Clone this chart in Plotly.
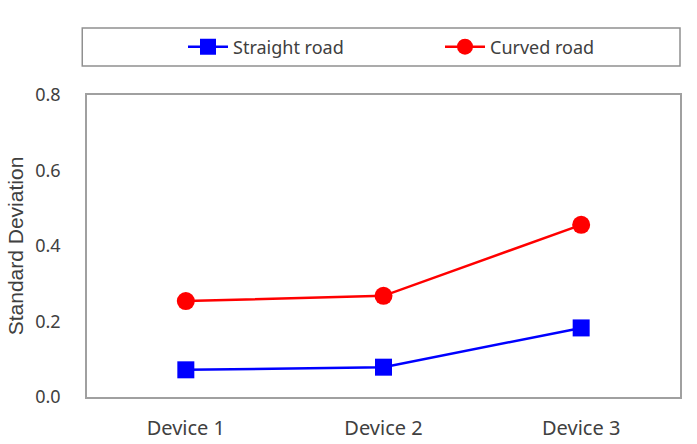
import plotly.graph_objects as go

devices = ["Device 1", "Device 2", "Device 3"]
straight = [0.072, 0.079, 0.183]
curved = [0.254, 0.268, 0.456]
yticks = [0.0, 0.2, 0.4, 0.6, 0.8]

fig = go.Figure()
fig.add_trace(go.Scatter(x=devices, y=straight, name="Straight road", mode="lines+markers",
                         line=dict(color="#0000FF", width=2.5),
                         marker=dict(symbol="square", size=17, color="#0000FF")))
fig.add_trace(go.Scatter(x=devices, y=curved, name="Curved road", mode="lines+markers",
                         line=dict(color="#FF0000", width=2.5),
                         marker=dict(symbol="circle", size=18, color="#FF0000")))

fig.update_layout(
    width=697, height=444,
    margin=dict(l=87, r=17, t=95, b=47),
    paper_bgcolor="white", plot_bgcolor="white",
    font=dict(family="Noto Sans, sans-serif", color="#404040"),
    showlegend=True,
    legend=dict(orientation="h", x=(193 - 87) / 593, xanchor="left",
                y=1 - 47 / 444, yanchor="middle", yref="container",
                font=dict(size=18, color="#404040"),
                bgcolor="rgba(0,0,0,0)", itemwidth=40, entrywidthmode="pixels",
                entrywidth=202),
    xaxis=dict(showline=True, linecolor="#A0A0A0", linewidth=1.5, mirror=True,
               showgrid=False, zeroline=False, ticks="", range=[-0.5, 2.5],
               automargin=False,
               tickfont=dict(size=20, color="#404040"), ticklabelstandoff=12),
    yaxis=dict(showline=True, linecolor="#A0A0A0", linewidth=1.5, mirror=True,
               showgrid=False, zeroline=False, ticks="", range=[0, 0.8],
               automargin=False,
               tickvals=yticks, tickformat=".1f",
               tickfont=dict(size=18, color="#404040"), ticklabelstandoff=21,
               title=dict(text="Standard Deviation", font=dict(size=21, family="Liberation Sans, Arial, sans-serif", color="#404040"), standoff=6)),
    shapes=[dict(type="rect", xref="paper", yref="paper", x0=-0.008, x1=1.0,
                 y0=(444-47-66)/302, y1=(444-47-28)/302,
                 line=dict(color="#909090", width=1.5), fillcolor="rgba(0,0,0,0)")],
)
fig.write_html("out.html")
